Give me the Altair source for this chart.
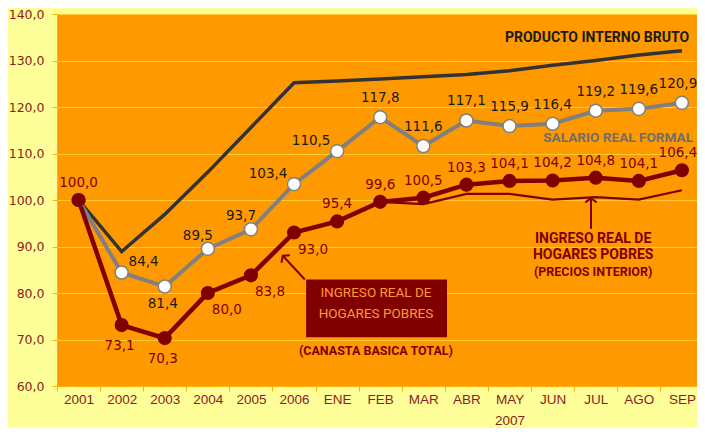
import altair as alt
import pandas as pd

categories = ["2001", "2002", "2003", "2004", "2005", "2006", "ENE", "FEB",
              "MAR", "ABR", "MAY", "JUN", "JUL", "AGO", "SEP"]
year_2007 = "2007"
ingreso_cbt = [100.0, 73.1, 70.3, 80.0, 83.8, 93.0, 95.4, 99.6, 100.5, 103.3,
               104.1, 104.2, 104.8, 104.1, 106.4]
salario = [100.0, 84.4, 81.4, 89.5, 93.7, 103.4, 110.5, 117.8, 111.6, 117.1,
           115.9, 116.4, 119.2, 119.6, 120.9]
pib = [100.0, 88.9, 96.9, 106.0, 115.6, 125.2, 125.6, 126.0, 126.5, 127.0,
       127.8, 129.0, 130.0, 131.2, 132.1]
ingreso_pi_cats = ["FEB", "MAR", "ABR", "MAY", "JUN", "JUL", "AGO", "SEP"]
ingreso_pi = [99.6, 99.1, 101.3, 101.3, 100.1, 100.6, 100.1, 102.1]

NARROW = "Roboto, Liberation Sans, sans-serif"
AXFONT = "Liberation Sans, Arial, sans-serif"
WIDE = "DejaVu Sans, Verdana, sans-serif"
DARKRED = "#800000"


def frame(cats, vals):
    return pd.DataFrame({
        "idx": [categories.index(c) for c in cats],
        "cat": cats,
        "v": vals,
        "lab": [f"{v:.1f}".replace(".", ",") for v in vals],
    })


df_cbt = frame(categories, ingreso_cbt)
df_sal = frame(categories, salario)
df_pib = frame(categories, pib)
df_pi = frame(ingreso_pi_cats, ingreso_pi)

cat_arr = "[" + ",".join(f"'{c}'" for c in categories) + "]"
may_i = categories.index("MAY")
x_label_expr = (f"datum.value % 1 != 0 ? '' : (datum.value == {may_i} ? "
                f"['MAY', '{year_2007}'] : {cat_arr}[datum.value])")

n = len(categories)
xscale = alt.Scale(domain=[-0.5, n - 0.65], nice=False, zero=False)
yscale = alt.Scale(domain=[60, 140], nice=False, zero=False)

x_axis = alt.Axis(
    values=[i * 0.5 - 0.5 for i in range(2 * n)],
    labelExpr=x_label_expr, grid=False, title=None, labelFlush=False,
    labelOverlap=False, tickSize=5, labelPadding=1, labelFont=AXFONT,
    labelFontSize=13.5, labelColor="#8B1C1C", labelLineHeight=21,
    tickColor={"condition": {"test": "datum.value % 1 == 0", "value": "transparent"},
               "value": "#FFB300"},
    domainColor="#FFB300",
)
y_axis = alt.Axis(
    values=list(range(60, 141, 10)),
    labelExpr="replace(format(datum.value, '.1f'), '.', ',')",
    grid=True, gridColor="#FFCC33", gridWidth=1.2, title=None,
    tickSize=5, labelPadding=8, labelFont=WIDE, labelFontSize=12.5,
    labelColor="#8B1C1C", tickColor="#FFB300", domainColor="#FFB300",
)


def XE(f="idx"):
    return alt.X(f"{f}:Q", scale=xscale, axis=x_axis)


def YE(f="v"):
    return alt.Y(f"{f}:Q", scale=yscale, axis=y_axis)


pib_line = alt.Chart(df_pib).mark_line(color="#333333", strokeWidth=3.5).encode(x=XE(), y=YE())
sal_line = alt.Chart(df_sal).mark_line(color="#808080", strokeWidth=4).encode(x=XE(), y=YE())
sal_pts = alt.Chart(df_sal).mark_point(
    filled=True, fill="white", stroke="#808080", strokeWidth=1.5, size=170, opacity=1
).encode(x=XE(), y=YE())
pi_line = alt.Chart(df_pi).mark_line(color=DARKRED, strokeWidth=2.2).encode(x=XE(), y=YE())
cbt_line = alt.Chart(df_cbt).mark_line(color=DARKRED, strokeWidth=4.5).encode(x=XE(), y=YE())
cbt_pts = alt.Chart(df_cbt).mark_point(
    filled=True, color=DARKRED, size=200, opacity=1
).encode(x=XE(), y=YE())


def labels(df, cats, dx, dy, color):
    return alt.Chart(df).transform_filter(
        alt.FieldOneOfPredicate(field="cat", oneOf=cats)
    ).mark_text(font=WIDE, fontSize=13.5, color=color, dx=dx, dy=dy).encode(
        x=XE(), y=YE(), text="lab:N")


lab_layers = [
    labels(df_cbt, ["2001"] + categories[6:14], 0, -17, DARKRED),
    labels(df_cbt, ["SEP"], -4, -17, DARKRED),
    labels(df_cbt, ["2002", "2003"], -2, 21, DARKRED),
    labels(df_cbt, ["2004", "2005", "2006"], 19, 17, DARKRED),
    labels(df_sal, categories[7:14], 0, -19, "#1A1A1A"),
    labels(df_sal, ["SEP"], -4, -19, "#1A1A1A"),
    labels(df_sal, ["2002"], 22, -11, "#1A1A1A"),
    labels(df_sal, ["2003"], -2, 18, "#1A1A1A"),
    labels(df_sal, ["2004", "2005"], -10, -13, "#1A1A1A"),
    labels(df_sal, ["2006", "ENE"], -26, -10, "#1A1A1A"),
]

# annotations (in data units: x index, y value)
box_df = pd.DataFrame({"x": [5.28], "x2": [8.55], "y": [70.5], "y2": [82.9]})
box = alt.Chart(box_df).mark_rect(color=DARKRED).encode(
    x=XE("x"), x2="x2:Q", y=YE("y"), y2="y2:Q")

ann_df = pd.DataFrame({
    "x": [6.9, 6.9, 6.9, 11.94, 11.94, 11.94, 12.03, 12.52],
    "y": [79.9, 75.4, 67.5, 91.7, 88.2, 84.6, 134.9, 113.3],
    "t": ["INGRESO REAL DE", "HOGARES POBRES", "(CANASTA BASICA TOTAL)",
          "INGRESO REAL DE", "HOGARES POBRES", "(PRECIOS INTERIOR)",
          "PRODUCTO INTERNO BRUTO", "SALARIO REAL FORMAL"],
    "c": ["#FF9933", "#FF9933", DARKRED, DARKRED, DARKRED, DARKRED, "#1A1A1A", "#6E6E6E"],
    "s": [13.5, 13.5, 12.5, 14, 14, 12.5, 14, 13.6],
    "w": ["normal", "normal", "bold", "bold", "bold", "bold", "bold", "bold"],
})


def ann_layer(weight):
    return alt.Chart(ann_df).transform_filter(
        alt.datum.w == weight
    ).mark_text(font=NARROW, fontWeight=weight).encode(
        x=XE("x"), y=YE("y"),
        text="t:N",
        color=alt.Color("c:N", scale=None),
        size=alt.Size("s:Q", scale=None),
    )


arrow_df = pd.DataFrame({"x": [5.25, 11.89], "y": [82.9, 93.8],
                         "x2": [4.74, 11.89], "y2": [88.0, 100.4]})
arrows = alt.Chart(arrow_df).mark_rule(color=DARKRED, strokeWidth=2).encode(
    x=XE("x"), x2="x2:Q", y=YE("y"), y2="y2:Q")
head_df = pd.DataFrame({"x": [4.74, 11.89], "y": [88.0, 100.4], "a": [318, 0]})
heads = alt.Chart(head_df).mark_point(
    shape="M-1,0.75L0,0L1,0.75", filled=False, strokeWidth=2, size=130,
    color=DARKRED, opacity=1
).encode(
    x=XE("x"), y=YE("y"),
    angle=alt.Angle("a:Q", scale=None),
)

chart = alt.layer(
    pib_line, sal_line, pi_line, cbt_line, sal_pts, cbt_pts,
    box, arrows, heads, ann_layer("normal"), ann_layer("bold"), *lab_layers
).properties(
    width=640, height=372,
    autosize=alt.AutoSizeParams(type="none"),
    padding={"left": 49, "top": 6, "right": 0, "bottom": 42},
    background="#FFFF99",
).configure_view(fill="#FF9900", strokeOpacity=0)

chart.save("out.html", embed_options={"renderer": "svg", "actions": False})
